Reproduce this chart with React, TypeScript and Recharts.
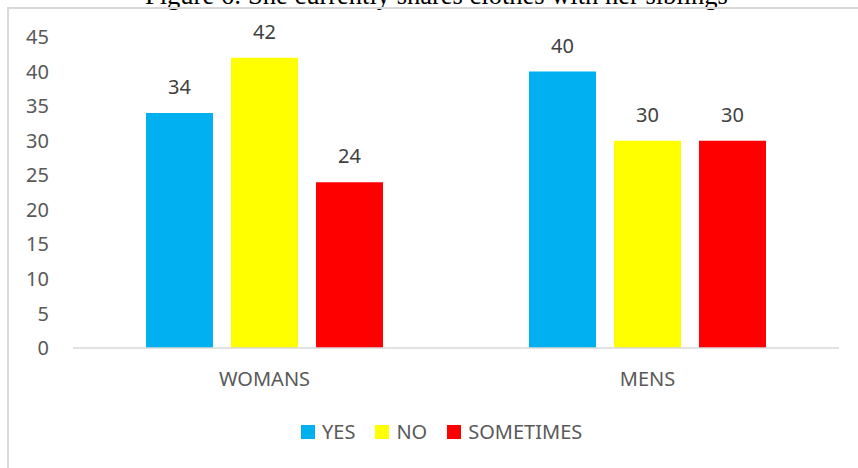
import React from 'react';
import { BarChart, Bar, XAxis, YAxis, Legend, LabelList } from 'recharts';

const groups = ['WOMANS', 'MENS'];
const yesValues = [34, 40];
const noValues = [42, 30];
const sometimesValues = [24, 30];
const yTicks = [0, 5, 10, 15, 20, 25, 30, 35, 40, 45];

const series = [
  { key: 'YES', color: '#00B0F0' },
  { key: 'NO', color: '#FFFF00' },
  { key: 'SOMETIMES', color: '#FF0000' },
];

const data = groups.map((g, i) => ({
  group: g,
  YES: yesValues[i],
  NO: noValues[i],
  SOMETIMES: sometimesValues[i],
}));

const font = '"Noto Sans", "Open Sans", sans-serif';

// keep the legend in series order (recharts sorts the payload by name)
const renderLegend = () => (
  <div style={{ display: 'flex', alignItems: 'center', height: 20, paddingLeft: 301, fontFamily: font, fontSize: 20, color: '#595959' }}>
    {series.map((s) => (
      <div key={s.key} style={{ display: 'flex', alignItems: 'center', marginRight: 20 }}>
        <span style={{ display: 'inline-block', width: 14, height: 14, background: s.color, marginRight: 7 }} />
        <span style={{ lineHeight: '20px' }}>{s.key}</span>
      </div>
    ))}
  </div>
);

export default function App() {
  return (
    <div style={{ position: 'fixed', left: 0, top: 0, width: 858, height: 468, overflow: 'hidden', background: '#fff' }}>
      <div
        style={{
          position: 'absolute',
          left: 145,
          top: -18,
          fontFamily: '"Liberation Serif", "Times New Roman", serif',
          fontSize: 26.5,
          lineHeight: 1,
          whiteSpace: 'nowrap',
          color: '#000',
        }}
      >
        Figure 6: She currently shares clothes with her siblings
      </div>
      <div
        style={{
          position: 'absolute',
          left: 7,
          top: 7,
          width: 870,
          height: 480,
          border: '2px solid #d9d9d9',
        }}
      />
      <div style={{ position: 'absolute', left: 0, top: 0 }}>
        <BarChart
          width={858}
          height={468}
          data={data}
          margin={{ top: 37, right: 19, bottom: 26, left: 0 }}
          barCategoryGap={73}
          barGap={18}
        >
          <XAxis
            dataKey="group"
            height={74}
            axisLine={{ stroke: '#d9d9d9', strokeWidth: 1.5 }}
            tickLine={false}
            tickSize={0}
            tickMargin={24}
            tick={{ fill: '#595959', fontSize: 20, fontFamily: font }}
          />
          <YAxis
            width={73}
            domain={[0, 45]}
            ticks={yTicks}
            interval={0}
            axisLine={false}
            tickLine={false}
            tickSize={0}
            tickMargin={24}
            tick={{ fill: '#595959', fontSize: 20, fontFamily: font }}
          />
          <Legend verticalAlign="bottom" content={renderLegend} wrapperStyle={{ left: 0, width: 858 }} />
          {series.map((s) => (
            <Bar key={s.key} dataKey={s.key} fill={s.color} isAnimationActive={false}>
              <LabelList dataKey={s.key} position="top" offset={19} fill="#404040" fontSize={20} fontFamily={font} />
            </Bar>
          ))}
        </BarChart>
      </div>
    </div>
  );
}
